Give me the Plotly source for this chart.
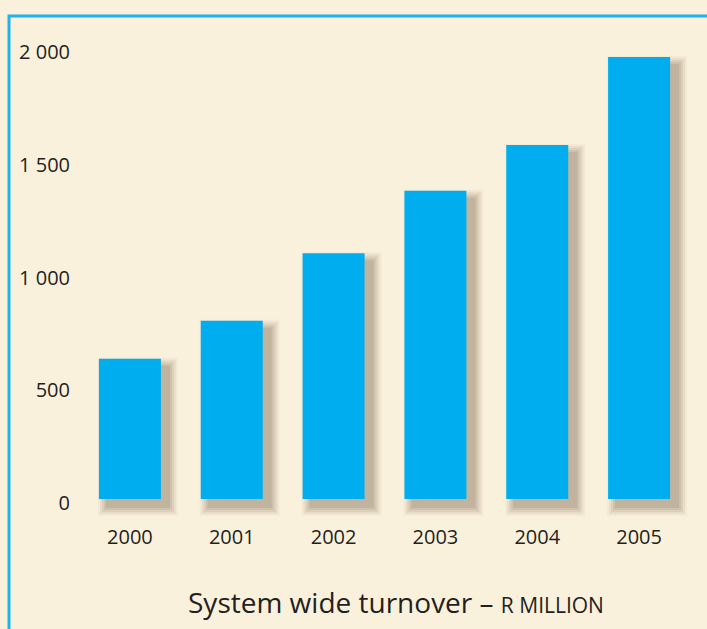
import plotly.graph_objects as go

years = ["2000", "2001", "2002", "2003", "2004", "2005"]
turnover = [622, 790, 1090, 1367, 1570, 1960]
ytick_vals = [0, 500, 1000, 1500, 2000]
ytick_text = ["0", "500", "1 000", "1 500", "2 000"]

W, H = 707, 629
BG = "#FAF1DC"
BAR = "#00AEEF"
BORDER = "#1DB3EC"

# pixel layout
plot_l, plot_r = 79, 690
plot_t, plot_b = 30, 522
zero_px = 499
px_per_unit = 451 / 2000.0
px_per_cat = (plot_r - plot_l) / 6.0

y_lo = -(plot_b - zero_px) / px_per_unit
y_hi = (zero_px - plot_t) / px_per_unit
upx = 1 / px_per_unit  # data units per pixel (y)
cpx = 1 / px_per_cat   # category units per pixel (x)

bar_w = 62 * cpx
fig = go.Figure()

# blurred drop shadow: layered translucent bars
dx, dy = 8, 8
for e, a in [(9, 0.05), (7, 0.08), (5, 0.10), (3, 0.12), (1, 0.14)]:
    fig.add_trace(go.Bar(
        x=years,
        y=[v + 2 * e * upx for v in turnover],
        base=-(dy + e) * upx,
        width=bar_w + 2 * e * cpx,
        offset=-bar_w / 2 + (dx - e) * cpx,
        marker=dict(color=f"rgba(110,95,70,{a})", line=dict(width=0)),
        hoverinfo="skip", showlegend=False,
    ))

fig.add_trace(go.Bar(
    x=years, y=turnover, width=bar_w,
    marker=dict(color=BAR, line=dict(width=0)),
    showlegend=False,
))

fig.update_layout(
    width=W, height=H,
    paper_bgcolor=BG, plot_bgcolor=BG,
    barmode="overlay",
    margin=dict(l=plot_l, r=W - plot_r, t=plot_t, b=H - plot_b, pad=0),
    font=dict(family="Open Sans", color="#231F20", size=20),
    xaxis=dict(
        type="category", showgrid=False, zeroline=False, showline=False,
        ticks="", tickfont=dict(size=20), ticklabelstandoff=1,
        range=[-0.5, 5.5],
    ),
    yaxis=dict(
        range=[y_lo, y_hi], showgrid=False, zeroline=False, showline=False,
        tickvals=ytick_vals, ticktext=ytick_text, ticks="",
        tickfont=dict(size=20), ticklabelstandoff=8, ticklabelshift=4,
    ),
    shapes=[dict(
        type="rect", xref="paper", yref="paper",
        x0=(9 - plot_l) / (plot_r - plot_l),
        x1=(W + 20 - plot_l) / (plot_r - plot_l),
        y0=(plot_b - (H + 20)) / (plot_b - plot_t),
        y1=(plot_b - 16) / (plot_b - plot_t),
        line=dict(color=BORDER, width=3), layer="below",
    )],
    annotations=[dict(
        text="System wide turnover – <span style='font-size:21px'>R MILLION</span>",
        xref="paper", yref="paper",
        x=(396 - plot_l) / (plot_r - plot_l),
        y=(plot_b - 602) / (plot_b - plot_t),
        xanchor="center", yanchor="middle", showarrow=False,
        font=dict(size=28, family="Open Sans", color="#231F20"),
    )],
)

fig.write_html("out.html")
